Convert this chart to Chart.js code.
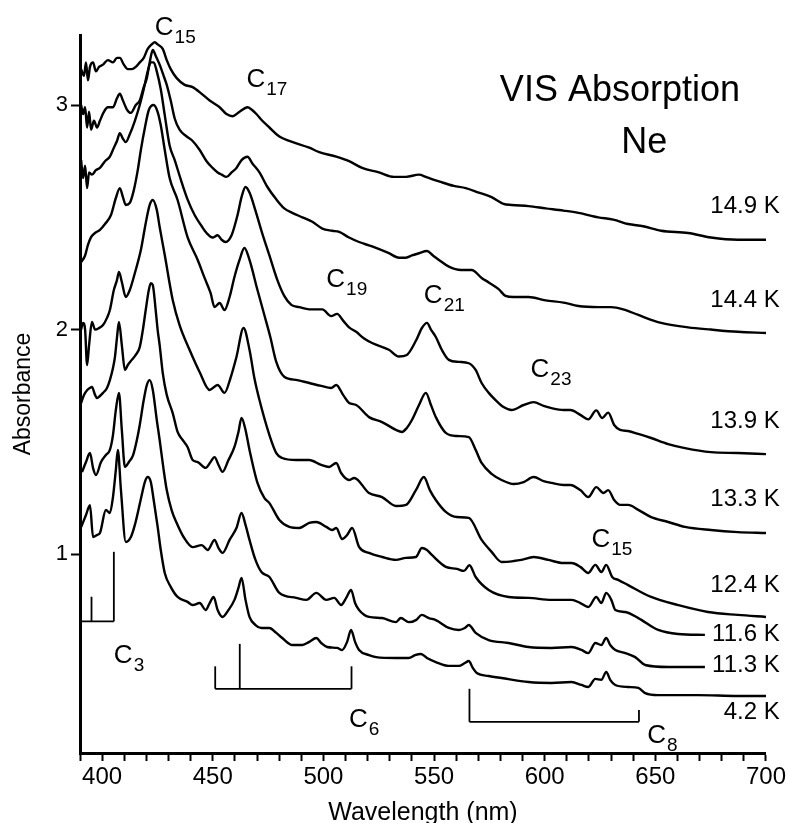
<!DOCTYPE html>
<html>
<head>
<meta charset="utf-8">
<script src="https://cdn.jsdelivr.net/npm/chart.js@4.4.1/dist/chart.umd.min.js"></script>
<style>
  html, body { margin: 0; padding: 0; background: #fff; }
  #wrap { width: 788px; height: 823px; }
</style>
</head>
<body>
<div id="wrap"><canvas id="spectra" width="788" height="823"></canvas></div>
<script>
// Spectra: [wavelength nm, absorbance]
const k149 = [[390.5,3.16],[391.8,3.13],[392.7,3.19],[393.6,3.11],[394.5,3.17],[395.9,3.19],[397.2,3.15],[398.6,3.17],[400.4,3.18],[402.6,3.20],[404.9,3.19],[406.7,3.21],[408,3.21],[409.8,3.18],[411.6,3.16],[413.4,3.16],[415.2,3.17],[417,3.19],[418.8,3.21],[420.6,3.25],[422.4,3.27],[423.8,3.28],[425.1,3.27],[427.4,3.25],[429.2,3.20],[431,3.16],[433.7,3.12],[437.3,3.09],[440.9,3.08],[445,3.05],[448.6,3.02],[453.1,2.99],[456.2,2.96],[458.9,2.95],[462.1,2.97],[465.7,2.99],[467.5,2.98],[469.7,2.96],[472.4,2.93],[475.6,2.90],[480.1,2.86],[484.6,2.84],[493.6,2.81],[498.1,2.79],[505.8,2.77],[511.6,2.75],[517.5,2.72],[525.1,2.70],[531.9,2.68],[537.3,2.68],[543.2,2.69],[546.3,2.68],[549,2.67],[552.2,2.66],[558.9,2.64],[564.3,2.63],[570.2,2.61],[576,2.59],[581.4,2.56],[585,2.555],[592.7,2.55],[600.4,2.54],[608.5,2.53],[615.2,2.52],[624.2,2.50],[631,2.49],[637.7,2.47],[644.5,2.46],[652.6,2.44],[664.8,2.43],[675.1,2.41],[687.3,2.40],[700,2.40]];

const k144 = [[390.5,3.00],[391.4,2.96],[392.3,2.99],[393.2,2.90],[394.1,2.97],[395,2.89],[396.3,2.93],[397.7,2.90],[399,2.93],[400.8,2.97],[402.6,2.99],[404.9,2.99],[406.7,3.03],[408,3.05],[409.4,3.02],[411.2,2.98],[413,2.965],[415.2,3.00],[417,3.02],[418.8,3.08],[420.2,3.12],[421.5,3.19],[422.9,3.245],[424.2,3.22],[426,3.18],[427.8,3.13],[429.2,3.09],[431,3.02],[432.8,2.94],[435,2.89],[438.2,2.86],[440.9,2.84],[444.1,2.80],[447.2,2.75],[449.9,2.72],[452.2,2.70],[454,2.69],[456.2,2.68],[458.5,2.70],[460.7,2.72],[463,2.755],[465.7,2.77],[467.9,2.74],[471.1,2.70],[474.7,2.635],[478.7,2.58],[482.3,2.54],[485.9,2.52],[490.5,2.50],[495,2.48],[499.5,2.45],[504,2.44],[507.1,2.435],[511.6,2.41],[516.1,2.39],[522,2.37],[529.6,2.34],[534.1,2.32],[537.3,2.32],[540,2.33],[543.2,2.34],[546.8,2.35],[549.5,2.33],[552.2,2.31],[556.7,2.28],[562.1,2.265],[567,2.265],[571.5,2.23],[574.7,2.21],[579.2,2.18],[582.3,2.15],[585.9,2.145],[592.7,2.145],[600.4,2.13],[608.5,2.12],[615.2,2.105],[624.2,2.10],[630.1,2.10],[635.5,2.09],[642.3,2.065],[652.6,2.03],[664.8,2.01],[675.1,2.00],[687.3,1.99],[700,1.985]];

const k139 = [[390.5,2.755],[391.4,2.675],[392.3,2.73],[393.2,2.63],[394.1,2.70],[395.4,2.69],[397.2,2.71],[399,2.72],[401.3,2.75],[403.5,2.77],[405.3,2.81],[406.7,2.84],[408,2.875],[409.4,2.85],[410.7,2.835],[412.5,2.87],[414.8,2.93],[417,3.00],[418.8,3.07],[420.6,3.15],[422,3.19],[423.3,3.19],[424.7,3.15],[426.5,3.07],[428.3,2.955],[430.5,2.82],[432.8,2.755],[435.5,2.67],[438.6,2.58],[441.8,2.51],[445,2.46],[447.2,2.43],[449.9,2.41],[452.2,2.42],[454,2.40],[455.8,2.39],[458.5,2.42],[461.2,2.51],[463,2.59],[464.8,2.635],[466.6,2.61],[469.3,2.53],[472,2.44],[475.6,2.33],[479.2,2.22],[482.3,2.15],[485.5,2.11],[489.1,2.10],[493.6,2.09],[499.5,2.09],[503.5,2.06],[506.2,2.07],[508.9,2.04],[511.6,2.01],[514.8,1.99],[518.4,1.96],[522,1.94],[529.6,1.91],[534.1,1.88],[537.7,1.887],[541.8,1.95],[544.5,2.007],[546.8,2.03],[548.6,2.00],[550.8,1.967],[553.5,1.91],[556.7,1.865],[561.2,1.856],[565.7,1.85],[568.8,1.82],[571.5,1.762],[574.7,1.718],[577.8,1.686],[581.4,1.655],[585,1.642],[590.5,1.664],[595,1.677],[599.5,1.66],[603.1,1.65],[608.5,1.642],[611.6,1.642],[616.1,1.62],[619.7,1.60],[623.3,1.64],[626,1.606],[628.7,1.63],[631.4,1.575],[634.1,1.553],[637.7,1.548],[642.3,1.535],[648.1,1.517],[655.8,1.49],[663.4,1.472],[675.1,1.454],[687.3,1.45],[700,1.445]];

const k133 = [[390.5,2.30],[392.3,2.33],[393.6,2.377],[395,2.412],[396.8,2.43],[399,2.444],[401.3,2.47],[404,2.51],[406.2,2.586],[408,2.63],[409.4,2.59],[410.7,2.555],[412.5,2.564],[414.3,2.62],[416.1,2.71],[417.5,2.80],[419.3,2.898],[421.1,2.978],[423.3,3.00],[425.1,2.969],[426.5,2.91],[428.3,2.80],[430.5,2.675],[434.1,2.577],[438.6,2.412],[443.2,2.31],[446.3,2.23],[449,2.163],[450.8,2.10],[453.1,2.118],[455.3,2.087],[457.6,2.145],[459.8,2.234],[462.1,2.31],[464.3,2.363],[466.6,2.31],[470.2,2.176],[473.3,2.065],[476,1.967],[478.7,1.856],[482.3,1.79],[488.2,1.775],[493.6,1.762],[499,1.749],[503.5,1.74],[505.8,1.753],[508.9,1.709],[511.6,1.673],[514.8,1.664],[520.6,1.61],[526.5,1.588],[532.8,1.553],[535.5,1.544],[537.7,1.562],[540,1.597],[543.2,1.664],[546.3,1.718],[548.6,1.664],[550.8,1.61],[555.3,1.54],[560.3,1.526],[565.7,1.521],[568.8,1.464],[571.5,1.406],[576,1.357],[580.5,1.33],[586,1.312],[590.5,1.321],[595,1.343],[599.5,1.325],[603.1,1.317],[608.5,1.308],[611.6,1.308],[616.1,1.285],[619.7,1.254],[623.3,1.298],[626.5,1.272],[628.7,1.285],[631.4,1.241],[634.1,1.219],[637.7,1.219],[642.3,1.197],[648.1,1.165],[655.8,1.143],[663.4,1.121],[675.1,1.107],[687.3,1.098],[700,1.094]];

const k124 = [[390.5,2.00],[391.4,2.03],[392.3,2.00],[393.2,1.842],[394.1,1.93],[395.4,2.034],[396.8,2.00],[398.6,2.007],[400.4,2.02],[402.2,2.052],[403.5,2.087],[405.3,2.176],[406.7,2.22],[407.6,2.257],[408.9,2.212],[410.7,2.145],[412.5,2.176],[414.8,2.252],[417.5,2.354],[419.7,2.474],[421.5,2.555],[422.9,2.577],[424.7,2.533],[426,2.457],[428.3,2.332],[431.9,2.132],[435,2.02],[439.5,1.91],[444.1,1.81],[448.6,1.731],[452.2,1.753],[455.3,1.718],[458,1.784],[460.7,1.878],[463.9,2.007],[466.6,1.91],[468.8,1.784],[471.1,1.686],[475.6,1.53],[478.7,1.45],[481.4,1.428],[487.7,1.419],[493.6,1.419],[499,1.397],[502.6,1.388],[505.8,1.406],[508,1.361],[511.6,1.33],[513.9,1.339],[520.6,1.272],[526.5,1.254],[532.8,1.214],[537.3,1.219],[541.8,1.285],[545.4,1.343],[548.1,1.285],[550.8,1.241],[555.3,1.188],[560.3,1.165],[565.7,1.161],[571.5,1.063],[576,1.01],[580.5,0.965],[586,0.969],[589.5,0.974],[595,0.987],[601.7,0.974],[608.5,0.96],[612.1,0.96],[616.1,0.943],[619.7,0.916],[622.9,0.952],[625.6,0.92],[627.8,0.952],[630.5,0.898],[633.2,0.885],[637.7,0.862],[648.1,0.809],[660.3,0.773],[673.8,0.742],[687.3,0.729],[700,0.72]];

const k116 = [[390.5,1.673],[391.8,1.709],[393.2,1.73],[394.5,1.74],[395.4,1.744],[396.8,1.709],[397.7,1.695],[399,1.704],[400.4,1.718],[402.2,1.74],[403.5,1.775],[404.9,1.829],[405.8,1.878],[406.7,1.963],[407.6,2.034],[408.9,1.931],[410.3,1.82],[411.6,1.842],[413.4,1.865],[415.2,1.887],[417,1.922],[418.4,1.998],[419.7,2.087],[421.1,2.176],[422,2.207],[422.9,2.198],[424.2,2.087],[425.1,1.998],[426,1.931],[427.4,1.806],[429.2,1.709],[431.9,1.628],[434.1,1.544],[436.4,1.508],[438.6,1.477],[440.9,1.419],[443.2,1.41],[446.8,1.384],[449,1.41],[450.8,1.432],[452.6,1.397],[454.4,1.366],[457.1,1.419],[459.8,1.477],[461.6,1.544],[463,1.606],[464.8,1.553],[466.6,1.464],[470.2,1.317],[473.3,1.25],[475.6,1.227],[480.1,1.152],[484.6,1.121],[489.1,1.116],[493.6,1.139],[496.8,1.143],[501.3,1.121],[504,1.107],[505.8,1.116],[508.5,1.067],[510.7,1.085],[513,1.116],[516.1,1.032],[520.6,1.005],[526.5,0.987],[532.8,0.974],[537.3,0.983],[541.8,0.987],[544.5,1.027],[546.8,1.018],[549,0.996],[555.3,0.943],[560.3,0.934],[563.5,0.925],[566,0.95],[568.8,0.898],[574.7,0.84],[583.7,0.809],[592.7,0.805],[603.1,0.796],[612.1,0.796],[616.1,0.782],[619.7,0.764],[623.3,0.809],[625.6,0.782],[627.8,0.827],[630.1,0.796],[631.9,0.751],[636.4,0.742],[642.3,0.715],[651.3,0.662],[660.3,0.644],[672.4,0.64]];

const k113 = [[390.9,1.365],[392.7,1.41],[394.5,1.45],[395.9,1.383],[397.2,1.352],[399.5,1.41],[401.7,1.441],[403.5,1.464],[404.9,1.53],[406.2,1.642],[407.6,1.718],[408.9,1.553],[410.3,1.388],[412.1,1.41],[414,1.441],[415.7,1.508],[417,1.575],[418.8,1.686],[420.2,1.753],[421.5,1.775],[422.9,1.731],[424.7,1.597],[426,1.508],[427.8,1.375],[429.2,1.285],[431.4,1.196],[433.7,1.138],[436.8,1.076],[440.9,1.031],[445,1.04],[447.7,1.018],[450.8,1.063],[452.6,1.027],[454.4,1.005],[457.6,1.063],[460.7,1.116],[463,1.183],[464.8,1.13],[466.6,1.063],[469.3,0.974],[472,0.92],[475.6,0.898],[480.1,0.827],[487.7,0.805],[492.3,0.796],[496.8,0.827],[501.3,0.796],[504.9,0.805],[508,0.773],[510.3,0.805],[512.5,0.84],[514.3,0.782],[516.1,0.751],[520.6,0.72],[526.5,0.715],[532.8,0.697],[535,0.715],[538.6,0.697],[541.8,0.706],[544.5,0.729],[547.7,0.715],[550.8,0.706],[556.7,0.671],[561.2,0.662],[563.9,0.671],[565.7,0.684],[568.8,0.649],[574.7,0.617],[583.7,0.604],[592.7,0.586],[603.1,0.582],[612.1,0.586],[616.6,0.573],[619.7,0.559],[622.9,0.604],[625.6,0.595],[627.8,0.626],[629.6,0.595],[631.9,0.573],[636.4,0.559],[640.9,0.541],[645.4,0.506],[655.8,0.497],[672.4,0.497]];

const k42 = [[390.5,1.12],[392.7,1.174],[394.5,1.218],[395.9,1.076],[397.7,1.085],[399,1.094],[401.7,1.196],[403.5,1.183],[404.9,1.254],[406.2,1.375],[407.1,1.464],[408.5,1.285],[410.7,1.054],[413,1.076],[414.8,1.13],[416.1,1.183],[417.9,1.263],[419.3,1.321],[420.6,1.343],[422,1.321],[423.3,1.241],[425.1,1.121],[426.5,1.018],[428.3,0.916],[431,0.854],[434.1,0.809],[438.6,0.787],[440.9,0.773],[444.1,0.782],[446.8,0.751],[448.6,0.782],[450.4,0.809],[452.2,0.751],[454.4,0.72],[457.1,0.751],[459.8,0.796],[461.6,0.849],[463,0.894],[464.8,0.796],[466.6,0.72],[469.3,0.684],[472,0.671],[475.6,0.671],[478.7,0.649],[481.4,0.626],[486,0.595],[490.5,0.595],[493.6,0.609],[496.8,0.626],[499,0.604],[501.7,0.586],[506.2,0.582],[508.5,0.573],[510.7,0.609],[512.5,0.662],[514.3,0.609],[516.1,0.573],[520.6,0.55],[523.8,0.541],[532.8,0.537],[538.6,0.537],[541.4,0.55],[544.1,0.555],[546.8,0.537],[550.8,0.519],[556.7,0.502],[561.2,0.502],[563.9,0.515],[565.7,0.524],[567.5,0.493],[569.3,0.47],[574.7,0.457],[580.5,0.448],[592.7,0.43],[603.1,0.426],[612.1,0.43],[616.6,0.417],[619.7,0.408],[622.9,0.444],[625.6,0.44],[627.8,0.475],[629.6,0.44],[631.9,0.417],[637.7,0.408],[642.3,0.404],[645.4,0.381],[651.3,0.372],[669.3,0.372],[687.3,0.368],[700,0.368]];

const spectra = [k149, k144, k139, k133, k124, k116, k113, k42];
const tempLabels = ['14.9 K', '14.4 K', '13.9 K', '13.3 K', '12.4 K', '11.6 K', '11.3 K', '4.2 K'];
const tempLabelAbs = [2.55, 2.13, 1.59, 1.245, 0.862, 0.644, 0.506, 0.297];

// Stick markers of the small carbon chains: band positions (nm) and stick tops
const c3Sticks = [395.2, 405.3];
const c3Tops = [0.81, 1.01];
const c6Sticks = [451.1, 462.2, 512.7];
const c6Tops = [0.50, 0.60, 0.50];
const c8Sticks = [566, 642.6];
const c8Tops = [0.40, 0.305];

const yTicks = [1, 2, 3];

// label placement: [main, subscript, nm, absorbance at baseline]
const peakLabels = [
  ['C', '15', 423.8, 3.312],
  ['C', '17', 465.2, 3.08],
  ['C', '19', 501.3, 2.19],
  ['C', '21', 545.4, 2.12],
  ['C', '23', 593.6, 1.79],
  ['C', '15', 621.1, 1.03],
  ['C', '3', 405.3, 0.515],
  ['C', '6', 511.6, 0.23],
  ['C', '8', 646.3, 0.159]
];

const FONT = '"Liberation Sans", Arial, Helvetica, sans-serif';

function bracket(sticks, tops, base) {
  // baseline from first to last stick, then each stick as its own segment
  const sets = [];
  sets.push([{ x: sticks[0], y: base }, { x: sticks[sticks.length - 1], y: base }]);
  sticks.forEach((s, i) => sets.push([{ x: s, y: base }, { x: s, y: tops[i] }]));
  return sets;
}

const datasets = spectra.map(s => ({
  data: s.map(([x, y]) => ({ x, y })),
  borderColor: '#000',
  borderWidth: 2.4,
  pointRadius: 0,
  showLine: true,
  fill: false,
  cubicInterpolationMode: 'monotone'
}));

const brackets = [
  ...bracket(c3Sticks, c3Tops, 0.70),
  ...bracket(c6Sticks, c6Tops, 0.40),
  ...bracket(c8Sticks, c8Tops, 0.253)
];
// C3 baseline starts at the axis
brackets[0][0].x = 390;

brackets.forEach(seg => datasets.push({
  data: seg,
  borderColor: '#000',
  borderWidth: 1.8,
  pointRadius: 0,
  showLine: true,
  fill: false,
  tension: 0
}));

const textPlugin = {
  id: 'figureText',
  afterDraw(chart) {
    const { ctx, scales: { x, y } } = chart;
    ctx.save();
    ctx.fillStyle = '#000';

    // peak labels with subscripts
    peakLabels.forEach(([main, sub, nm, abs]) => {
      const px = x.getPixelForValue(nm);
      const py = y.getPixelForValue(abs);
      ctx.textAlign = 'left';
      ctx.textBaseline = 'alphabetic';
      ctx.font = '26px ' + FONT;
      ctx.fillText(main, px, py);
      const w = ctx.measureText(main).width;
      ctx.font = '19px ' + FONT;
      ctx.fillText(sub, px + w + 1, py + 8);
    });

    // temperature labels at the right
    ctx.font = '24px ' + FONT;
    ctx.textAlign = 'right';
    ctx.textBaseline = 'middle';
    tempLabels.forEach((t, i) => {
      ctx.fillText(t, x.getPixelForValue(706.2), y.getPixelForValue(tempLabelAbs[i]));
    });

    // title block
    ctx.textAlign = 'center';
    ctx.textBaseline = 'alphabetic';
    ctx.font = '36px ' + FONT;
    ctx.fillText('VIS Absorption', x.getPixelForValue(634), y.getPixelForValue(3.02));
    ctx.fillText('Ne', x.getPixelForValue(645), y.getPixelForValue(2.786));

    // axis titles
    ctx.font = '25px ' + FONT;
    ctx.fillText('Wavelength (nm)', (x.left + x.right) / 2, 820);
    ctx.save();
    ctx.translate(30, (y.top + y.bottom) / 2);
    ctx.rotate(-Math.PI / 2);
    ctx.font = '23px ' + FONT;
    ctx.fillText('Absorbance', 0, 0);
    ctx.restore();

    ctx.restore();
  }
};

new Chart(document.getElementById('spectra'), {
  type: 'scatter',
  data: { datasets },
  options: {
    responsive: false,
    animation: false,
    devicePixelRatio: 1,
    layout: { padding: { left: 0, right: 20, top: 35, bottom: 0 } },
    plugins: { legend: { display: false }, tooltip: { enabled: false } },
    scales: {
      x: {
        type: 'linear',
        min: 390,
        max: 700,
        grid: { drawOnChartArea: false, drawTicks: true, tickLength: 8, tickWidth: 2, tickColor: '#000' },
        border: { display: true, color: '#000', width: 3 },
        ticks: {
          stepSize: 10,
          autoSkip: false,
          maxRotation: 0,
          padding: 2,
          color: '#000',
          font: { family: FONT, size: 24 },
          callback: v => (v % 50 === 0 ? v : '')
        },
        afterFit: s => { s.height = 70; }
      },
      y: {
        min: 0.114,
        max: 3.312,
        grid: { drawOnChartArea: false, drawTicks: true, tickLength: 9, tickWidth: 2, tickColor: '#000' },
        border: { display: true, color: '#000', width: 3 },
        afterBuildTicks: s => { s.ticks = yTicks.map(v => ({ value: v })); },
        ticks: {
          padding: 3,
          color: '#000',
          font: { family: FONT, size: 22 },
          callback: v => v
        },
        afterFit: s => { s.width = 80; }
      }
    }
  },
  plugins: [textPlugin]
});
</script>
</body>
</html>
